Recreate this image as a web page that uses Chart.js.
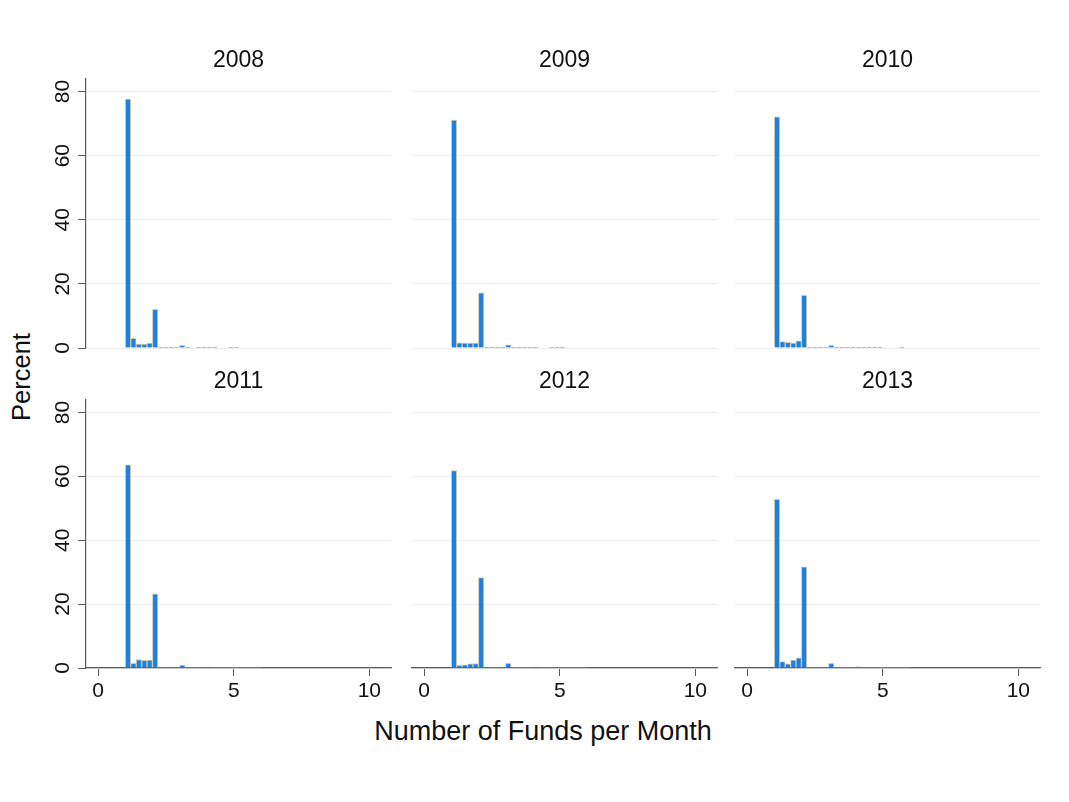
<!DOCTYPE html>
<html>
<head>
<meta charset="utf-8">
<script src="https://cdn.jsdelivr.net/npm/chart.js@4.4.1/dist/chart.umd.min.js"></script>
<style>
  html, body { margin: 0; padding: 0; background: #fff; }
  #fig {
    position: relative; width: 1069px; height: 802px; overflow: hidden;
    font-family: "Liberation Sans", Arial, Helvetica, sans-serif; color: #111;
  }
  #fig canvas { position: absolute; }
  .axis-title { position: absolute; white-space: nowrap; line-height: 1; }
  #ytitle { left: 21.5px; top: 377px; font-size: 25.5px; transform: translate(-50%, -50%) rotate(-90deg); }
  #xtitle { left: 543px; top: 731px; font-size: 27px; transform: translate(-50%, -50%); }
</style>
</head>
<body>
<div id="fig">
  <div id="ytitle" class="axis-title">Percent</div>
  <div id="xtitle" class="axis-title">Number of Funds per Month</div>
</div>
<script>
// Histogram of funds per month, one panel per year (bin width 0.2, percent of observations)
const years = ['2008', '2009', '2010', '2011', '2012', '2013'];
const BIN_WIDTH = 0.2;
// lower edge of each bin
const binStart = [1.0, 1.2, 1.4, 1.6, 1.8, 2.0, 2.2, 2.4, 2.6, 2.8, 3.0, 3.2, 3.4,
                  3.6, 3.8, 4.0, 4.2, 4.4, 4.6, 4.8, 5.0, 5.2, 5.4, 5.6, 5.8];
const pct2008 = [77.6, 3.0, 1.2, 1.2, 1.5, 12.1, 0.2, 0.2, 0.2, 0.2, 0.8, 0.2, 0,
                 0.3, 0.3, 0.3, 0.3, 0, 0, 0.3, 0.3, 0, 0, 0, 0];
const pct2009 = [71.1, 1.6, 1.5, 1.5, 1.5, 17.2, 0.2, 0.2, 0.2, 0.2, 1.0, 0.2, 0.2,
                 0.2, 0.2, 0.1, 0, 0, 0.2, 0.2, 0.2, 0, 0, 0, 0];
const pct2010 = [72.1, 2.0, 1.8, 1.5, 2.2, 16.4, 0.2, 0.2, 0.2, 0.2, 0.8, 0.2, 0.2,
                 0.2, 0.2, 0.2, 0.2, 0.2, 0.2, 0.2, 0, 0, 0, 0.3, 0];
const pct2011 = [63.6, 1.5, 2.6, 2.4, 2.5, 23.2, 0.3, 0.3, 0.3, 0.3, 0.9, 0.2, 0.2,
                 0.2, 0.2, 0.3, 0.2, 0.2, 0.2, 0.1, 0.1, 0.1, 0.1, 0.1, 0.1];
const pct2012 = [61.8, 0.8, 1.0, 1.3, 1.4, 28.3, 0.3, 0.3, 0.3, 0.3, 1.5, 0.2, 0.2,
                 0.2, 0.2, 0.3, 0.2, 0.2, 0.2, 0.1, 0.1, 0.1, 0.1, 0.1, 0.1];
const pct2013 = [52.8, 2.0, 1.3, 2.5, 3.2, 31.7, 0.3, 0.3, 0.3, 0.3, 1.5, 0.2, 0.2,
                 0.2, 0.2, 0.4, 0.2, 0.2, 0.2, 0.1, 0.1, 0.1, 0.1, 0.1, 0.1];
const xTicks = [0, 5, 10];
const yTicks = [0, 20, 40, 60, 80];

const seriesByYear = [pct2008, pct2009, pct2010, pct2011, pct2012, pct2013];

// axis ranges
const X_MIN = -0.45, X_MAX = 10.8;
const Y_MIN = 0, Y_MAX = 83.9;

// panel geometry (plot areas)
const PANEL_W = 305;
const colLeft = [86, 412, 735];
const rowTop = [79, 400];
const rowHeight = [269, 268];
const AXIS_W = 60, TITLE_H = 45, XAXIS_H = 50, RIGHT_PAD = 12;

// styling
const FONT = '"Liberation Sans", Arial, Helvetica, sans-serif';
const TEXT_COLOR = '#111';
const AXIS_COLOR = '#5a5a5a';
const GRID_COLOR = '#ececec';
const BAR_FILL = '#1b7fe3';
const BAR_EDGE = 'rgba(200, 196, 150, 0.85)';

Chart.defaults.font.family = FONT;

const fig = document.getElementById('fig');

function makePanel(i) {
  const row = Math.floor(i / 3), col = i % 3;
  const isLeft = col === 0, isBottom = row === 1;
  const w = AXIS_W + PANEL_W + RIGHT_PAD;
  const h = TITLE_H + rowHeight[row] + XAXIS_H;
  const canvas = document.createElement('canvas');
  canvas.width = w; canvas.height = h;
  canvas.style.width = w + 'px'; canvas.style.height = h + 'px';
  canvas.style.left = (colLeft[col] - AXIS_W) + 'px';
  canvas.style.top = (rowTop[row] - TITLE_H) + 'px';
  fig.appendChild(canvas);

  const values = seriesByYear[i];
  const points = binStart.map((b, k) => ({ x: +(b + BIN_WIDTH / 2).toFixed(2), y: values[k] }));

  new Chart(canvas, {
    type: 'bar',
    data: {
      datasets: [{
        data: points,
        backgroundColor: BAR_FILL,
        borderColor: BAR_EDGE,
        borderWidth: 1,
        barPercentage: 1,
        categoryPercentage: 1
      }]
    },
    options: {
      responsive: false,
      animation: false,
      devicePixelRatio: 1,
      events: [],
      layout: { padding: { left: 0, right: RIGHT_PAD, top: 0, bottom: 0 } },
      plugins: {
        legend: { display: false },
        tooltip: { enabled: false },
        title: {
          display: true,
          text: years[i],
          fullSize: false,
          color: TEXT_COLOR,
          font: { size: 23, weight: 'normal' },
          padding: { top: 12.7, bottom: 4.7 }
        }
      },
      scales: {
        x: {
          type: 'linear',
          position: 'bottom',
          offset: false,
          min: X_MIN, max: X_MAX,
          afterBuildTicks: s => { s.ticks = xTicks.map(v => ({ value: v })); },
          afterFit: s => { s.height = XAXIS_H; },
          grid: {
            display: isBottom, offset: false, drawOnChartArea: false, drawTicks: true,
            tickLength: 8, tickColor: AXIS_COLOR, tickWidth: 1
          },
          border: { display: isBottom, color: AXIS_COLOR, width: 1.2 },
          ticks: {
            display: isBottom, padding: 3, autoSkip: false, maxRotation: 0,
            color: TEXT_COLOR, font: { size: 21 }
          }
        },
        y: {
          position: 'left',
          min: Y_MIN, max: Y_MAX,
          afterBuildTicks: s => { s.ticks = yTicks.map(v => ({ value: v })); },
          afterFit: s => { s.width = AXIS_W; },
          grid: {
            color: GRID_COLOR, lineWidth: 1,
            drawTicks: isLeft, tickLength: 8, tickColor: AXIS_COLOR, tickWidth: 1
          },
          border: { display: isLeft, color: AXIS_COLOR, width: 1.2 },
          ticks: {
            display: isLeft, minRotation: 90, maxRotation: 90, crossAlign: 'center',
            padding: 3, color: TEXT_COLOR, font: { size: 21 }
          }
        }
      }
    }
  });
}

years.forEach((_, i) => makePanel(i));
</script>
</body>
</html>
